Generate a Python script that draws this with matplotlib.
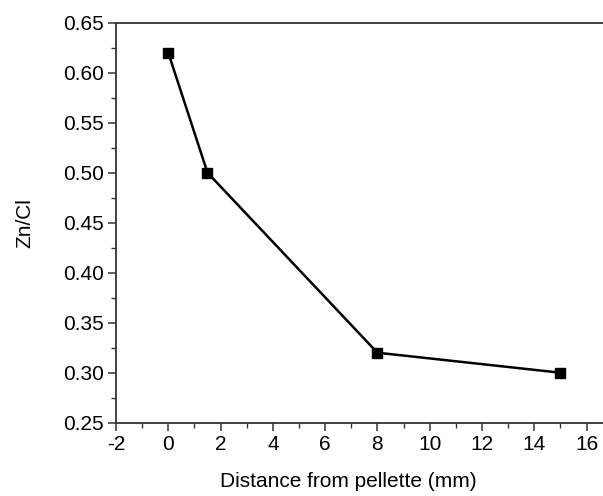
import matplotlib.pyplot as plt
from matplotlib.ticker import MultipleLocator

plt.rcParams['font.family'] = ['Liberation Sans', 'DejaVu Sans']
plt.rcParams['axes.unicode_minus'] = False

distance = [0, 1.5, 8, 15]
zn_cl = [0.62, 0.50, 0.32, 0.30]

fig = plt.figure(figsize=(6.03, 4.96), dpi=100)
ax = fig.add_axes([116 / 603, 1 - 422.7 / 496, 1 - 116 / 603, 400 / 496])

ax.plot(distance, zn_cl, color='black', linewidth=1.8, marker='s',
        markersize=7, markerfacecolor='black', markeredgecolor='black')

ax.set_xlim(-2, 16.63)
ax.set_ylim(0.25, 0.65)
ax.xaxis.set_major_locator(MultipleLocator(2))
ax.xaxis.set_minor_locator(MultipleLocator(1))
ax.yaxis.set_major_locator(MultipleLocator(0.05))
ax.yaxis.set_minor_locator(MultipleLocator(0.025))
ax.yaxis.set_major_formatter(plt.FormatStrFormatter('%.2f'))

ax.spines['right'].set_visible(False)
for s in ['left', 'bottom', 'top']:
    ax.spines[s].set_linewidth(1.3)
    ax.spines[s].set_color('#333333')

ax.tick_params(which='major', direction='out', length=6, width=1.1,
               labelsize=15, color='#333333', top=False, right=False, pad=3)
ax.tick_params(which='minor', direction='out', length=3.5, width=1.0,
               color='#333333', top=False, right=False)

ax.set_xlabel('Distance from pellette (mm)', fontsize=15, labelpad=13)
ax.xaxis.label.set_x(0.477)
ax.set_ylabel('Zn/Cl', fontsize=15, labelpad=20)

fig.savefig('out.png', dpi=100)
